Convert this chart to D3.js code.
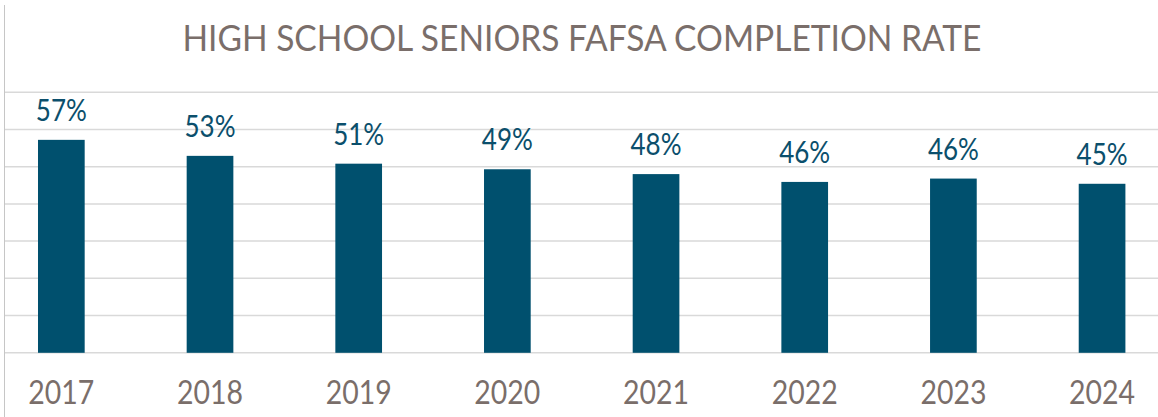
<!DOCTYPE html>
<html>
<head>
<meta charset="utf-8">
<script src="https://cdn.jsdelivr.net/npm/d3@7"></script>
<style>
  body { margin: 0; background: #fff; }
  svg { display: block; font-family: Lato, "Noto Sans", sans-serif; }
</style>
</head>
<body>
<div id="chart"></div>
<script>
// chart data
var years = ["2017", "2018", "2019", "2020", "2021", "2022", "2023", "2024"];
var rates = [57.2, 52.9, 50.8, 49.3, 48.0, 45.9, 46.8, 45.4];
var rateLabels = ["57%", "53%", "51%", "49%", "48%", "46%", "46%", "45%"];
var gridTicks = [0, 10, 20, 30, 40, 50, 60, 70];
var title = "HIGH SCHOOL SENIORS FAFSA COMPLETION RATE";

var width = 1158, height = 417;
var barColor = "#00506e";
var textColor = "#7a6e6a";

var svg = d3.select("#chart").append("svg")
  .attr("width", width)
  .attr("height", height);

// plot area runs past the left edge a little, like the cropped original
var xScale = d3.scaleBand().domain(years)
  .range([-13, 1176.4])
  .paddingInner(0.686)
  .paddingOuter(0.343);

var yScale = d3.scaleLinear().domain([0, 70]).range([352.8, 92.2]);

// gridlines
svg.append("g").attr("class", "grid")
  .selectAll("line").data(gridTicks).enter().append("line")
  .attr("x1", 4.5).attr("x2", width)
  .attr("y1", function(d) { return yScale(d); })
  .attr("y2", function(d) { return yScale(d); })
  .attr("stroke", "#d9d9d9")
  .attr("stroke-width", 1.5);

// left frame line
svg.append("line")
  .attr("x1", 4.5).attr("x2", 4.5)
  .attr("y1", 5).attr("y2", height)
  .attr("stroke", "#c6c6c6")
  .attr("stroke-width", 1);

// bars
svg.append("g").selectAll("rect").data(rates).enter().append("rect")
  .attr("x", function(d, i) { return xScale(years[i]); })
  .attr("width", xScale.bandwidth())
  .attr("y", function(d) { return yScale(d); })
  .attr("height", function(d) { return yScale(0) - yScale(d); })
  .attr("fill", barColor);

// value labels
svg.append("g").selectAll("text").data(rates).enter().append("text")
  .attr("x", function(d, i) { return xScale(years[i]) + xScale.bandwidth() / 2; })
  .attr("y", function(d) { return yScale(d) - 19; })
  .attr("text-anchor", "middle")
  .attr("font-size", 31)
  .attr("textLength", 51)
  .attr("lengthAdjust", "spacingAndGlyphs")
  .attr("fill", "#0b4f6c")
  .text(function(d, i) { return rateLabels[i]; });

// x axis labels
var xAxis = d3.axisBottom(xScale).tickSize(0).tickPadding(0);
var gx = svg.append("g")
  .attr("transform", "translate(0," + 404 + ")")
  .call(xAxis);
gx.select(".domain").remove();
gx.selectAll("text")
  .attr("dy", 0)
  .attr("y", 0)
  .attr("font-size", 32.5)
  .attr("font-family", "Lato, 'Noto Sans', sans-serif")
  .attr("textLength", 66)
  .attr("lengthAdjust", "spacingAndGlyphs")
  .attr("fill", textColor);

// title
svg.append("text")
  .attr("x", 582)
  .attr("y", 51)
  .attr("text-anchor", "middle")
  .attr("font-size", 37.5)
  .attr("textLength", 799)
  .attr("lengthAdjust", "spacingAndGlyphs")
  .attr("fill", textColor)
  .text(title);
</script>
</body>
</html>
